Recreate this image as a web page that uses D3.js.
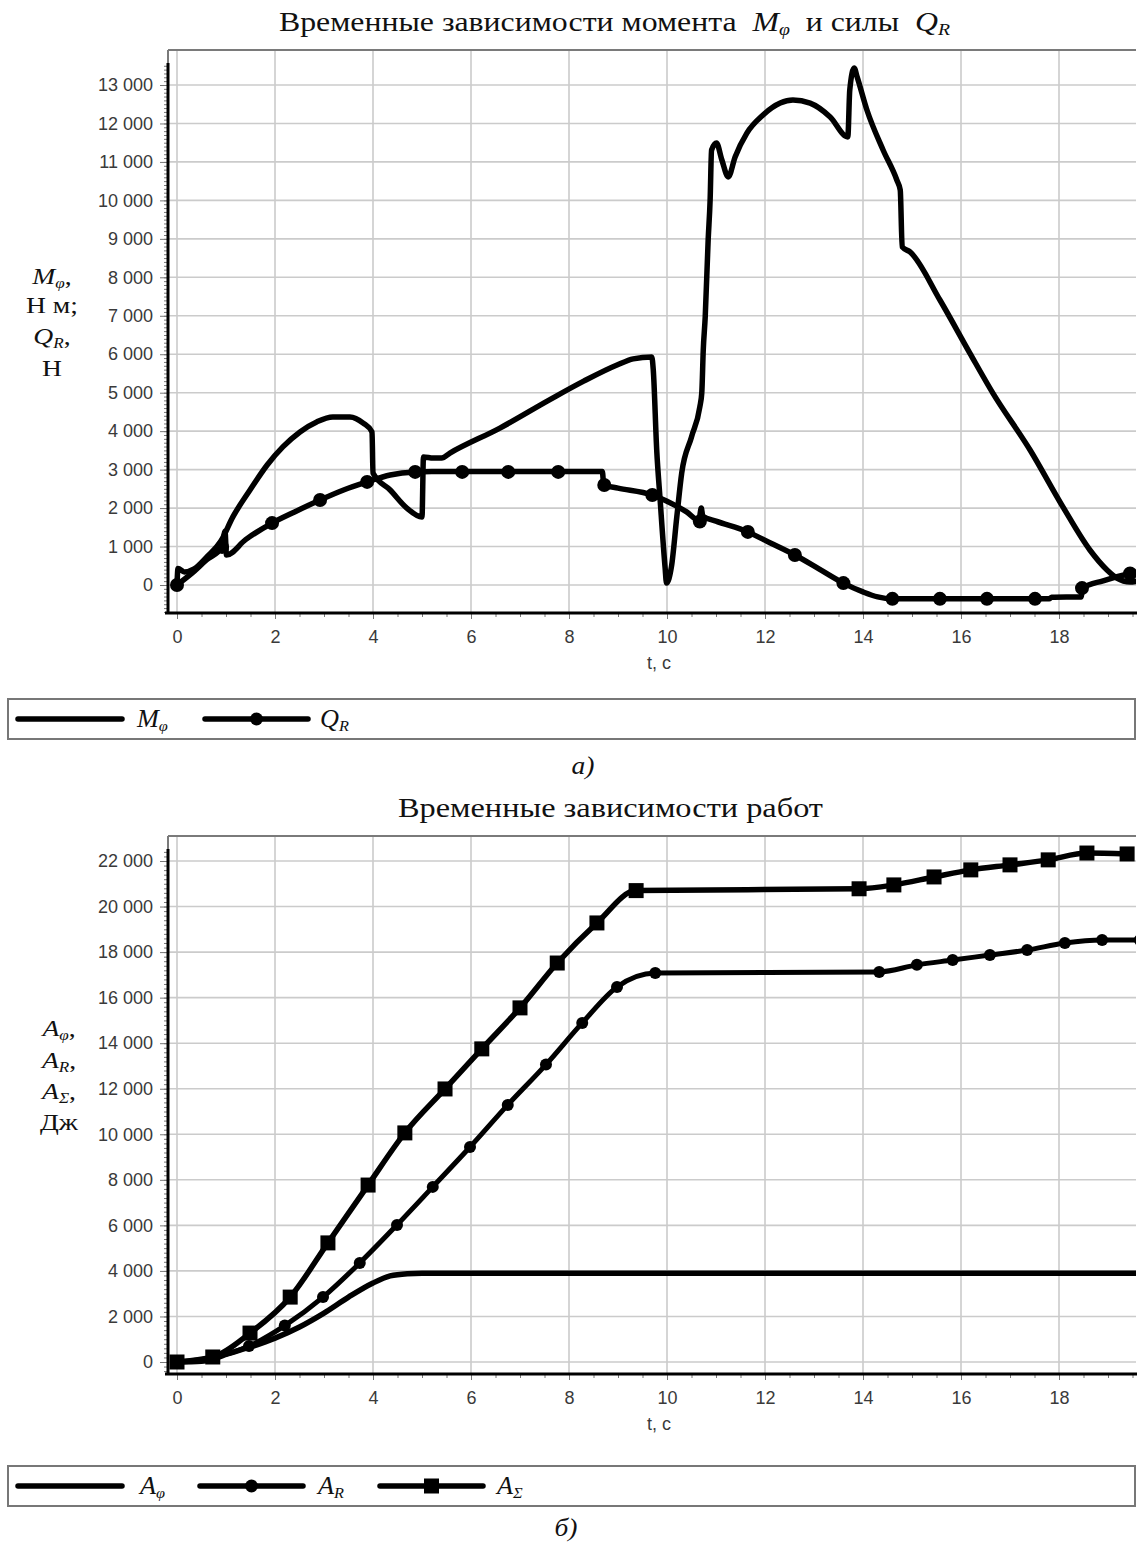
<!DOCTYPE html>
<html>
<head>
<meta charset="utf-8">
<script src="https://cdn.jsdelivr.net/npm/d3@7"></script>
<style>
  body { margin: 0; background: #fff; }
  svg { display: block; }
  .tick text { font-family: "Liberation Sans", Arial, sans-serif; font-size: 18px; fill: #3a3a3a; }
  .tick line { stroke: #777; }
</style>
</head>
<body>
<svg id="chart" width="1137" height="1544"></svg>
<script>
// время, с
const tTicks = d3.range(0, 19, 2);
const tMinor = d3.range(0, 19.6, 0.5);

// момент M_φ, Н·м
const mPhi = [
  [0, 0], [0.02, 430], [0.15, 340], [0.35, 420], [0.6, 720], [0.9, 1150], [1.14, 1770],
  [1.49, 2470], [1.84, 3120], [2.16, 3590], [2.51, 3980], [2.85, 4240], [3.18, 4370],
  [3.53, 4370], [3.8, 4210], [3.98, 3980], [4.0, 2910], [4.35, 2470], [4.69, 2000],
  [5.0, 1770], [5.03, 3330], [5.23, 3300], [5.4, 3300], [5.57, 3430], [6.59, 4080],
  [7.61, 4820], [8.3, 5300], [8.98, 5720], [9.31, 5880], [9.69, 5930], [9.72, 5590],
  [9.79, 3510], [9.86, 2210], [9.96, 470], [9.99, 50], [10.09, 470], [10.2, 1770],
  [10.3, 2910], [10.5, 3850], [10.67, 4630], [10.71, 5000], [10.74, 6110], [10.78, 6970],
  [10.84, 8970], [10.88, 10010], [10.91, 11310], [11.01, 11490], [11.12, 11050],
  [11.25, 10610], [11.39, 11130], [11.63, 11750], [11.96, 12220], [12.31, 12530],
  [12.57, 12610], [12.92, 12530], [13.33, 12170], [13.69, 11650], [13.73, 12870],
  [13.82, 13440], [13.88, 13210], [14.08, 12350], [14.41, 11310], [14.69, 10530],
  [14.76, 10270], [14.8, 8790], [14.96, 8660], [15.57, 7410], [16.18, 6030],
  [16.65, 4990], [17.41, 3510], [18.08, 2030], [18.63, 910], [18.98, 390],
  [19.18, 180], [19.45, 80], [19.6, 100]
];

// сила Q_R, Н
const qR = [
  [0, 0], [0.3, 300], [0.6, 650], [0.92, 990], [0.98, 1400], [1.01, 780], [1.4, 1180],
  [1.94, 1610], [2.4, 1900], [2.92, 2210], [3.4, 2470], [3.88, 2680], [4.35, 2860],
  [4.86, 2940], [5.2, 2950], [8.68, 2950], [8.71, 2600], [9.0, 2520], [9.7, 2340],
  [10.0, 2180], [10.4, 1900], [10.65, 1680], [10.7, 2000], [10.73, 1790], [11.0, 1660],
  [11.65, 1380], [12.1, 1100], [12.61, 780], [13.1, 420], [13.6, 50], [14.0, -180],
  [14.3, -310], [14.6, -360], [17.8, -360], [17.85, -320], [18.45, -310], [18.48, -80],
  [18.9, 110], [19.45, 300], [19.6, 340]
];
const qRMarks = [
  [0, 0], [0.92, 990], [1.94, 1610], [2.92, 2210], [3.88, 2680], [4.86, 2940],
  [5.82, 2940], [6.76, 2940], [7.78, 2940], [8.72, 2600], [9.7, 2340], [10.67, 1650],
  [11.65, 1380], [12.61, 780], [13.6, 50], [14.6, -360], [15.57, -360], [16.53, -360],
  [17.51, -360], [18.47, -80], [19.45, 300]
];

// работы, Дж
const aPhi = [
  [0, 0], [0.5, 30], [0.8, 180], [1.0, 330], [1.5, 660], [2.0, 1050], [2.5, 1540],
  [3.0, 2150], [3.5, 2850], [4.0, 3470], [4.35, 3780], [4.7, 3880], [5.0, 3900], [19.6, 3900]
];
const aR = [
  [0, 0], [0.75, 200], [1.47, 700], [2.2, 1600], [2.98, 2850], [3.73, 4350], [4.49, 6020],
  [5.22, 7690], [5.98, 9440], [6.75, 11290], [7.53, 13060], [8.27, 14890], [8.98, 16470],
  [9.76, 17080], [14.33, 17130], [15.1, 17440], [15.83, 17650], [16.59, 17870],
  [17.35, 18090], [18.12, 18400], [18.88, 18530], [19.65, 18530]
];
const aSum = [
  [0, 0], [0.73, 220], [1.49, 1270], [2.31, 2850], [3.08, 5230], [3.9, 7770], [4.65, 10060],
  [5.47, 11990], [6.22, 13750], [7.0, 15550], [7.76, 17520], [8.57, 19280], [9.37, 20700],
  [13.92, 20780], [14.63, 20950], [15.45, 21300], [16.2, 21610], [17.0, 21830],
  [17.78, 22050], [18.57, 22350], [19.39, 22310]
];

const svg = d3.select("#chart");
const serif = '"Liberation Serif", "Times New Roman", serif';
const fmt = d3.formatLocale({ decimal: ".", thousands: "\u00a0", grouping: [3], currency: ["", ""] }).format(",");

// текст с курсивом и индексами: [строка, курсив, индекс]
function mathText(parent, parts, size) {
  const t = parent.append("text")
    .attr("font-family", serif)
    .attr("font-size", size)
    .attr("fill", "#111");
  let sub = false;
  parts.forEach(([s, it, sb]) => {
    const ts = t.append("tspan").text(s);
    if (it) ts.attr("font-style", "italic");
    if (sb) {
      ts.attr("font-size", size * 0.62).attr("dy", size * 0.16);
      sub = true;
    } else if (sub) {
      ts.attr("dy", -size * 0.16);
      sub = false;
    }
  });
  return t;
}

function stretched(x, y, sx, parts, size, anchor) {
  const g = svg.append("g").attr("transform", `translate(${x},${y}) scale(${sx},1)`);
  return mathText(g, parts, size).attr("text-anchor", anchor || "start");
}

function panel(p) {
  const L = 168, R = 1136, T = p.top, B = p.bottom;
  const x = d3.scaleLinear().domain([0, 18]).range([177, 1059]);
  const y = d3.scaleLinear().domain([0, p.yMax]).range([p.y0, p.yTopPx]);
  const g = svg.append("g");

  // сетка
  g.append("g").selectAll("line").data(tTicks).join("line")
    .attr("x1", d => x(d)).attr("x2", d => x(d))
    .attr("y1", T).attr("y2", B)
    .attr("stroke", "#cbcbcb").attr("stroke-width", 1.6);
  g.append("g").selectAll("line").data(p.yTicks).join("line")
    .attr("x1", L).attr("x2", R)
    .attr("y1", d => y(d)).attr("y2", d => y(d))
    .attr("stroke", "#cbcbcb").attr("stroke-width", 1.6);

  // рамка сверху
  g.append("line").attr("x1", L).attr("x2", R).attr("y1", T).attr("y2", T)
    .attr("stroke", "#7a7a7a").attr("stroke-width", 2);
  g.append("line").attr("x1", L).attr("x2", L).attr("y1", T).attr("y2", T + 14)
    .attr("stroke", "#7a7a7a").attr("stroke-width", 2);

  // оси
  const yMinor = d3.range(Math.ceil(y.invert(B) / p.yMinorStep) * p.yMinorStep, y.invert(T + 12), p.yMinorStep);
  g.append("g").attr("transform", `translate(${L},0)`)
    .call(d3.axisLeft(y).tickValues(yMinor).tickSize(4).tickFormat(""))
    .call(a => a.select(".domain").remove());
  g.append("g").attr("transform", `translate(${L},0)`)
    .call(d3.axisLeft(y).tickValues(p.yTicks).tickSize(8).tickPadding(7).tickFormat(fmt))
    .call(a => a.select(".domain").remove());
  g.append("g").attr("transform", `translate(0,${B})`)
    .call(d3.axisBottom(x).tickValues(tMinor).tickSize(4).tickFormat(""))
    .call(a => a.select(".domain").remove());
  g.append("g").attr("transform", `translate(0,${B})`)
    .call(d3.axisBottom(x).tickValues(tTicks).tickSize(6).tickPadding(11).tickFormat(d3.format("d")))
    .call(a => a.select(".domain").remove());

  g.append("line").attr("x1", L).attr("x2", L).attr("y1", T + 13).attr("y2", B + 1)
    .attr("stroke", "#000").attr("stroke-width", 3);
  g.append("line").attr("x1", L - 3).attr("x2", R + 1).attr("y1", B).attr("y2", B)
    .attr("stroke", "#000").attr("stroke-width", 3);

  g.append("text").attr("x", 659).attr("y", B + 56)
    .attr("text-anchor", "middle")
    .attr("font-family", '"Liberation Sans", Arial, sans-serif')
    .attr("font-size", 18).attr("fill", "#3a3a3a")
    .text("t, с");

  // область построения
  const clipId = "clip" + p.id;
  svg.append("clipPath").attr("id", clipId)
    .append("rect").attr("x", L).attr("y", T).attr("width", R - L).attr("height", B - T);
  const plot = svg.append("g").attr("clip-path", `url(#${clipId})`);

  p.series.forEach(s => {
    const line = d3.line().x(d => x(d[0])).y(d => y(d[1])).curve(s.curve || d3.curveLinear);
    plot.append("path").datum(s.data)
      .attr("d", line)
      .attr("fill", "none")
      .attr("stroke", "#000")
      .attr("stroke-width", s.width)
      .attr("stroke-linejoin", "round")
      .attr("stroke-linecap", "round");
    if (s.marker === "circle") {
      plot.append("g").selectAll("circle").data(s.marks).join("circle")
        .attr("cx", d => x(d[0])).attr("cy", d => y(d[1]))
        .attr("r", s.size).attr("fill", "#000");
    } else if (s.marker === "square") {
      plot.append("g").selectAll("rect").data(s.marks).join("rect")
        .attr("x", d => x(d[0]) - s.size / 2).attr("y", d => y(d[1]) - s.size / 2)
        .attr("width", s.size).attr("height", s.size).attr("fill", "#000");
    }
  });
}

function legend(top, items) {
  svg.append("rect").attr("x", 8).attr("y", top).attr("width", 1127).attr("height", 40)
    .attr("fill", "none").attr("stroke", "#777").attr("stroke-width", 2);
  const cy = top + 20;
  items.forEach(it => {
    svg.append("line").attr("x1", it.x0).attr("x2", it.x1).attr("y1", cy).attr("y2", cy)
      .attr("stroke", "#000").attr("stroke-width", 5.5).attr("stroke-linecap", "round");
    const cx = (it.x0 + it.x1) / 2;
    if (it.marker === "circle") {
      svg.append("circle").attr("cx", cx).attr("cy", cy).attr("r", 6.5).attr("fill", "#000");
    } else if (it.marker === "square") {
      svg.append("rect").attr("x", cx - 7.5).attr("y", cy - 7.5).attr("width", 15).attr("height", 15).attr("fill", "#000");
    }
    stretched(it.lx, cy + 8, 1.05, it.label, 25);
  });
}

// ---------- а) ----------
mathText(svg, [["Временные зависимости момента\u00a0\u00a0"], ["M", 1], ["φ", 1, 1],
  ["\u00a0\u00a0и силы\u00a0\u00a0"], ["Q", 1], ["R", 1, 1]], 27)
  .attr("x", 279).attr("y", 31)
  .attr("textLength", 671).attr("lengthAdjust", "spacingAndGlyphs");

panel({
  id: 1, top: 50, bottom: 613, yMax: 13000, y0: 585, yTopPx: 85,
  yTicks: d3.range(0, 13001, 1000), yMinorStep: 100,
  series: [
    { data: mPhi, width: 5.5, curve: d3.curveMonotoneX },
    { data: qR, width: 5.5, curve: d3.curveMonotoneX, marker: "circle", marks: qRMarks, size: 7 }
  ]
});

stretched(52, 284, 1.2, [["M", 1], ["φ", 1, 1], [","]], 23, "middle");
stretched(52, 313, 1.2, [["Н м;"]], 23, "middle");
stretched(52, 344, 1.2, [["Q", 1], ["R", 1, 1], [","]], 23, "middle");
stretched(52, 376, 1.2, [["Н"]], 23, "middle");

legend(699, [
  { x0: 18, x1: 122, lx: 137, label: [["M", 1], ["φ", 1, 1]] },
  { x0: 205, x1: 308, lx: 320, marker: "circle", label: [["Q", 1], ["R", 1, 1]] }
]);

stretched(583, 774, 1.1, [["а)", 1]], 25, "middle");

// ---------- б) ----------
mathText(svg, [["Временные зависимости работ"]], 27)
  .attr("x", 398).attr("y", 817)
  .attr("textLength", 425).attr("lengthAdjust", "spacingAndGlyphs");

panel({
  id: 2, top: 836, bottom: 1374, yMax: 22000, y0: 1362, yTopPx: 861,
  yTicks: d3.range(0, 22001, 2000), yMinorStep: 200,
  series: [
    { data: aPhi, width: 5.5, curve: d3.curveMonotoneX },
    { data: aR, width: 5, curve: d3.curveMonotoneX, marker: "circle", marks: aR, size: 6 },
    { data: aSum, width: 5.5, curve: d3.curveMonotoneX, marker: "square", marks: aSum, size: 15 }
  ]
});

stretched(59, 1036, 1.2, [["A", 1], ["φ", 1, 1], [","]], 23, "middle");
stretched(59, 1068, 1.2, [["A", 1], ["R", 1, 1], [","]], 23, "middle");
stretched(59, 1099, 1.2, [["A", 1], ["Σ", 1, 1], [","]], 23, "middle");
stretched(59, 1130, 1.2, [["Дж"]], 23, "middle");

legend(1466, [
  { x0: 18, x1: 122, lx: 140, label: [["A", 1], ["φ", 1, 1]] },
  { x0: 200, x1: 303, lx: 318, marker: "circle", label: [["A", 1], ["R", 1, 1]] },
  { x0: 380, x1: 483, lx: 497, marker: "square", label: [["A", 1], ["Σ", 1, 1]] }
]);

stretched(566, 1536, 1.1, [["б)", 1]], 25, "middle");
</script>
</body>
</html>
